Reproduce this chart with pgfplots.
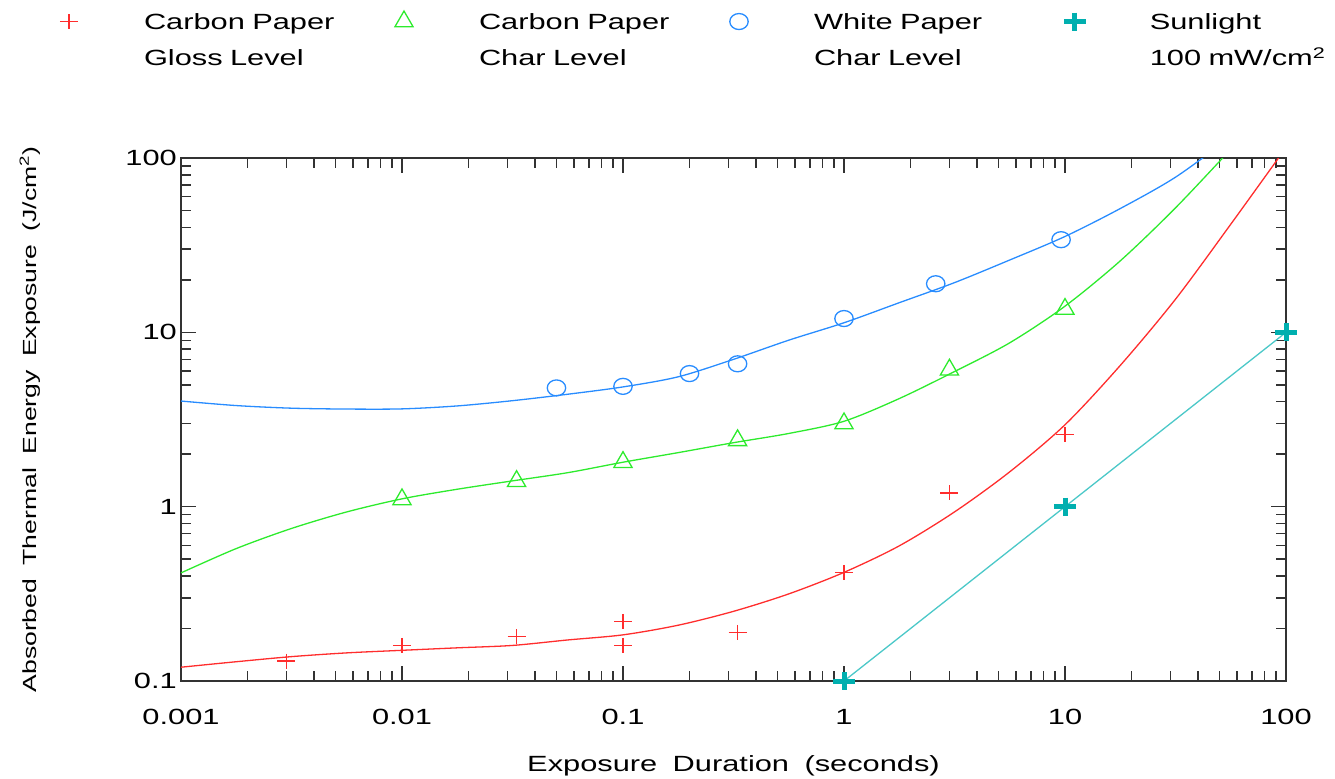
\documentclass[border=0pt]{standalone}
\usepackage{pgfplots}
\pgfplotsset{compat=1.18}
\usepackage{fontspec}
\setmainfont{Liberation Sans}[FakeStretch=1.40, WordSpace=1.8]

\definecolor{cRed}{RGB}{255,45,45}
\definecolor{cGreen}{RGB}{45,235,45}
\definecolor{cBlue}{RGB}{40,140,255}
\definecolor{cTeal}{RGB}{0,175,175}
\definecolor{cTealLine}{RGB}{75,200,200}
\definecolor{cAxis}{RGB}{50,50,50}

\pgfplotsset{
  legmark/.style={legend image code/.code={%
      \path[draw=none,fill=none] (-10bp,-5bp) rectangle (75bp,15bp);
      \draw[##1] plot coordinates {(0bp,8bp)};}},
  fit curve/.style={line width=1.3bp, smooth, forget plot},
}

\begin{document}
\begin{tikzpicture}
\useasboundingbox (0,0) rectangle (1335bp,-779bp);
\begin{axis}[
  at={(181bp,-681bp)}, anchor=south west,
  scale only axis, width=1105bp, height=523bp,
  xmode=log, ymode=log,
  xmin=0.001, xmax=100, ymin=0.1, ymax=100,
  axis line style={draw=cAxis, line width=1.5bp},
  every tick/.style={draw=cAxis, line width=1.5bp},
  tick align=inside, xtick pos=both, ytick pos=both,
  major tick length=15bp, minor tick length=10bp,
  xtick={0.001,0.01,0.1,1,10,100},
  xticklabels={0.001,0.01,0.1,1,10,100},
  minor xtick={0.002,0.003,0.004,0.005,0.006,0.007,0.008,0.009,
               0.02,0.03,0.04,0.05,0.06,0.07,0.08,0.09,
               0.2,0.3,0.4,0.5,0.6,0.7,0.8,0.9,
               2,3,4,5,6,7,8,9,
               20,30,40,50,60,70,80,90},
  ytick={0.1,1,10,100},
  yticklabels={0.1,1,10,100},
  minor ytick={0.2,0.3,0.4,0.5,0.6,0.7,0.8,0.9,
               2,3,4,5,6,7,8,9,
               20,30,40,50,60,70,80,90},
  /pgf/number format/assume math mode=true,
  tick label style={font=\fontsize{22bp}{26bp}\selectfont, inner sep=0pt},
  xticklabel style={anchor=center}, xticklabel shift=36bp,
  yticklabel style={anchor=east}, yticklabel shift=4bp,
  xlabel={Exposure Duration (seconds)},
  ylabel={Absorbed Thermal Energy Exposure (J/cm\textsuperscript{2})},
  xlabel style={font=\fontsize{22bp}{26bp}\selectfont, inner sep=0pt,
                at={(axis description cs:0.5,-0.1625)}, anchor=center},
  ylabel style={font=\fontsize{19bp}{23bp}\selectfont, inner sep=0pt,
                at={(axis description cs:-0.1367,0.5)}, anchor=center},
  legend columns=4,
  legend style={at={(axis description cs:-0.1104,1.2810)}, anchor=north west,
    draw=none, fill=none, inner sep=0pt, outer sep=0pt,
    /tikz/column sep=0pt, /tikz/row sep=0pt,
    nodes={anchor=base west, inner sep=0pt, outer sep=0pt, text width=250bp,
           align=left, font=\fontsize{22bp}{36bp}\selectfont}},
]

% fitted curves
\addplot[cRed, fit curve] coordinates {
  (0.001,0.120) (0.001778,0.129) (0.003162,0.138) (0.005623,0.145)
  (0.01,0.150) (0.01778,0.155) (0.03162,0.160) (0.05623,0.172)
  (0.1,0.184) (0.1778,0.209) (0.3162,0.251) (0.5623,0.316)
  (1,0.420) (1.778,0.596) (3.162,0.933) (5.623,1.585)
  (10,2.951) (17.78,6.457) (31.62,15.49) (56.23,41.69) (100,114.8)};
\addplot[cGreen, fit curve] coordinates {
  (0.001,0.417) (0.001778,0.575) (0.003162,0.750) (0.005623,0.933)
  (0.01,1.109) (0.01778,1.259) (0.03162,1.406) (0.05623,1.567)
  (0.1,1.799) (0.1778,2.042) (0.3162,2.328) (0.5623,2.630)
  (1,3.090) (1.778,4.169) (3.162,5.957) (5.623,8.710)
  (10,14.13) (17.78,25.70) (31.62,51.76) (56.23,112.2)};
\addplot[cBlue, fit curve] coordinates {
  (0.001,4.036) (0.001778,3.802) (0.003162,3.673) (0.005623,3.631)
  (0.01,3.639) (0.01778,3.784) (0.03162,4.055) (0.05623,4.416)
  (0.1,4.864) (0.1778,5.559) (0.3162,6.998) (0.5623,9.016)
  (1,11.35) (1.778,14.79) (3.162,19.28) (5.623,26.00)
  (10,35.48) (17.78,51.29) (31.62,77.62) (56.23,131.8)};
\addplot[cTealLine, line width=1.3bp, forget plot] coordinates {
  (1,0.1) (10,1) (100,10)};

% measured points
\addplot[only marks, mark=+, color=cRed, mark size=7.5bp, line width=1.3bp,
  mark options={xscale=1.2}, legmark] coordinates {
  (0.003,0.13) (0.01,0.16) (0.033,0.18) (0.1,0.22) (0.1,0.16)
  (0.33,0.19) (1,0.42) (3,1.2) (10,2.6)};
\addlegendentry{Carbon Paper\\Gloss Level}

\addplot[only marks, mark=triangle, color=cGreen, mark size=10.5bp, line width=1.3bp,
  legmark] coordinates {
  (0.01,1.1) (0.033,1.4) (0.1,1.8) (0.33,2.4) (1,3) (3,6.1) (10,13.6)};
\addlegendentry{Carbon Paper\\Char Level}

\addplot[only marks, mark=o, color=cBlue, mark size=8bp, line width=1.3bp,
  mark options={xscale=1.15}, legmark] coordinates {
  (0.05,4.8) (0.1,4.9) (0.2,5.8) (0.33,6.6) (1,12) (2.6,19) (9.6,34)};
\addlegendentry{White Paper\\Char Level}

\addplot[only marks, mark=+, color=cTeal, mark size=9bp, line width=5bp,
  mark options={xscale=1.2}, legmark] coordinates {
  (1,0.1) (10,1) (100,10)};
\addlegendentry{Sunlight\\100 mW/cm\textsuperscript{2}}

\end{axis}
\end{tikzpicture}
\end{document}
